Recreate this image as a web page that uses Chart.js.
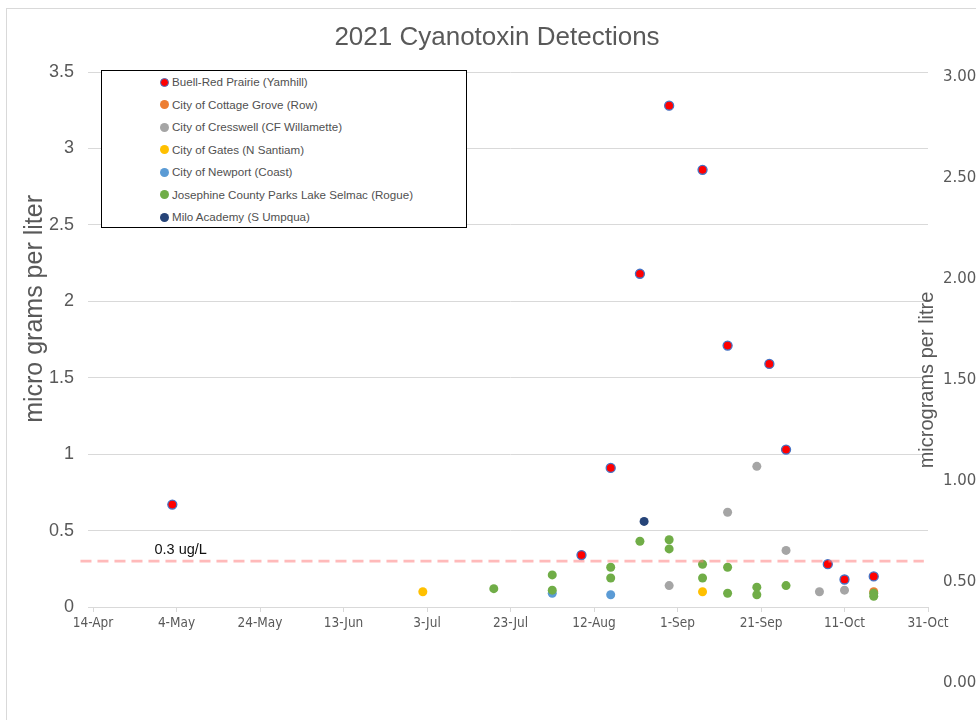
<!DOCTYPE html>
<html><head><meta charset="utf-8">
<script src="https://cdn.jsdelivr.net/npm/chart.js@4.4.1/dist/chart.umd.min.js"></script>
<style>
html,body{margin:0;padding:0;background:#fff;overflow:hidden;width:976px;height:720px;}
#frame{position:absolute;left:6px;top:8px;width:1100px;height:900px;border:1px solid #D9D9D9;}
#c{position:absolute;left:0;top:0;}
#legend{position:absolute;left:101px;top:70px;width:366px;height:158px;border:1.5px solid #000;box-sizing:border-box;background:#fff;font-family:"Liberation Sans";font-size:11.6px;color:#505050;}
.item{position:absolute;left:0;right:0;height:22px;}
.dot{position:absolute;left:58px;top:6.5px;width:9px;height:9px;border-radius:50%;box-sizing:border-box;}
.lbl{position:absolute;left:70px;top:0;line-height:22px;white-space:nowrap;}
</style></head>
<body><div id="frame"></div><canvas id="c" width="976" height="720"></canvas><div id="legend"></div>
<script>
// ---- data ----
const chartTitle = '2021 Cyanotoxin Detections';
const leftAxisTitle = 'micro grams per liter';
const rightAxisTitle = 'micrograms per litre';
const seriesNames = [
  'Buell-Red Prairie (Yamhill)',
  'City of Cottage Grove (Row)',
  'City of Cresswell (CF Willamette)',
  'City of Gates (N Santiam)',
  'City of Newport (Coast)',
  'Josephine County Parks Lake Selmac (Rogue)',
  'Milo Academy (S Umpqua)'
];
const buellDates = ['2021-05-03','2021-08-09','2021-08-16','2021-08-23','2021-08-30','2021-09-07','2021-09-13','2021-09-23','2021-09-27','2021-10-07','2021-10-11','2021-10-18'];
const buellValues = [0.67,0.34,0.91,2.18,3.28,2.86,1.71,1.59,1.03,0.28,0.18,0.20];
const cottageDates = ['2021-10-18'];
const cottageValues = [0.10];
const cresswellDates = ['2021-08-30','2021-09-13','2021-09-20','2021-09-27','2021-10-05','2021-10-11'];
const cresswellValues = [0.14,0.62,0.92,0.37,0.10,0.11];
const gatesDates = ['2021-07-02','2021-09-07'];
const gatesValues = [0.10,0.10];
const newportDates = ['2021-08-02','2021-08-16'];
const newportValues = [0.09,0.08];
const josephineDates = ['2021-07-19','2021-08-02','2021-08-02','2021-08-16','2021-08-16','2021-08-23','2021-08-30','2021-08-30','2021-09-07','2021-09-07','2021-09-13','2021-09-13','2021-09-20','2021-09-20','2021-09-27','2021-10-18','2021-10-18'];
const josephineValues = [0.12,0.21,0.11,0.26,0.19,0.43,0.44,0.38,0.28,0.19,0.26,0.09,0.13,0.08,0.14,0.09,0.07];
const miloDates = ['2021-08-24'];
const miloValues = [0.56];
const thresholdDates = ['2021-04-11','2021-10-30'];
const thresholdValue = 0.3;
const thresholdLabel = '0.3 ug/L';
const thresholdLabelDate = '2021-05-05';
const xTickDates = ['2021-04-14','2021-05-04','2021-05-24','2021-06-13','2021-07-03','2021-07-23','2021-08-12','2021-09-01','2021-09-21','2021-10-11','2021-10-31'];
const xTickLabels = ['14-Apr','4-May','24-May','13-Jun','3-Jul','23-Jul','12-Aug','1-Sep','21-Sep','11-Oct','31-Oct'];
const leftTicks = [0,0.5,1,1.5,2,2.5,3,3.5];
const leftTickLabels = ['0','0.5','1','1.5','2','2.5','3','3.5'];
const rightTicks = [0,0.5,1,1.5,2,2.5,3];
const rightTickLabels = ['0.00','0.50','1.00','1.50','2.00','2.50','3.00'];

// ---- helpers ----
const toDay = s => Date.UTC(+s.slice(0,4), +s.slice(5,7)-1, +s.slice(8,10)) / 864e5;
const pts = (d, v) => d.map((s, i) => ({x: toDay(s), y: v[i]}));

const seriesData = [
  pts(buellDates, buellValues),
  pts(cottageDates, cottageValues),
  pts(cresswellDates, cresswellValues),
  pts(gatesDates, gatesValues),
  pts(newportDates, newportValues),
  pts(josephineDates, josephineValues),
  pts(miloDates, miloValues)
];
const fills = ['#FF0000','#ED7D31','#A5A5A5','#FFC000','#5B9BD5','#70AD47','#264478'];
const borders = ['#4472C4','#ED7D31','#A5A5A5','#FFC000','#5B9BD5','#70AD47','#264478'];

const datasets = seriesNames.map((name, i) => ({
  label: name,
  data: seriesData[i],
  backgroundColor: fills[i],
  borderColor: borders[i],
  pointBackgroundColor: fills[i],
  pointBorderColor: borders[i],
  pointBorderWidth: i === 0 ? 1.3 : 0,
  pointRadius: 4.5,
  pointHoverRadius: 4.5,
  order: seriesNames.length - i,
  yAxisID: 'y'
}));
datasets.push({
  label: 'threshold',
  data: thresholdDates.map(s => ({x: toDay(s), y: thresholdValue})),
  showLine: true,
  borderColor: 'rgba(255,130,130,0.55)',
  borderWidth: 2.8,
  borderDash: [11, 6],
  pointRadius: 0,
  clip: false,
  order: 0,
  yAxisID: 'y'
});

const extraText = {
  id: 'extraText',
  afterDraw(chart) {
    const {ctx, scales: {x, y, y2}} = chart;
    ctx.save();
    ctx.font = '14.5px "Liberation Sans"';
    ctx.fillStyle = '#111';
    ctx.textAlign = 'center';
    ctx.textBaseline = 'middle';
    ctx.fillText(thresholdLabel, x.getPixelForValue(toDay(thresholdLabelDate)), y.getPixelForValue(thresholdValue) - 11);
    // left axis title (sits above the axis centre, as in the reference)
    ctx.save();
    ctx.translate(y.left + 17, y.getPixelForValue(1.95));
    ctx.rotate(-Math.PI / 2);
    ctx.font = '25px "Liberation Sans"';
    ctx.fillStyle = '#595959';
    ctx.fillText(leftAxisTitle, 0, 0);
    ctx.restore();
    // right axis title
    ctx.translate(y2.left - 1, y2.getPixelForValue(1.5));
    ctx.rotate(-Math.PI / 2);
    ctx.font = '20px "Liberation Sans"';
    ctx.fillStyle = '#595959';
    ctx.fillText(rightAxisTitle, 0, 0);
    ctx.restore();
  }
};

const chart = new Chart(document.getElementById('c'), {
  type: 'scatter',
  data: {datasets},
  plugins: [extraText],
  options: {
    responsive: false,
    animation: false,
    devicePixelRatio: 1,
    layout: {padding: {left: 18, right: 0, top: 0, bottom: 83}},
    plugins: {
      legend: {display: false},
      tooltip: {enabled: false},
      title: {
        display: true, text: chartTitle, color: '#595959',
        font: {family: 'Liberation Sans', size: 26, weight: 'normal'},
        padding: {top: 22, bottom: 18.8}
      }
    },
    scales: {
      x: {
        type: 'linear',
        min: toDay(xTickDates[0]), max: toDay(xTickDates[xTickDates.length - 1]),
        afterBuildTicks: s => { s.ticks = xTickDates.map(d => ({value: toDay(d)})); },
        afterFit: s => { s.height = 30; },
        grid: {drawOnChartArea: false, drawTicks: true, tickLength: 5, color: '#D9D9D9'},
        border: {display: true, color: '#D9D9D9'},
        ticks: {
          autoSkip: false, maxRotation: 0, padding: 3, color: '#595959',
          font: {family: '"DejaVu Sans Condensed", "Liberation Sans", sans-serif', size: 13.5},
          callback: (v, i) => xTickLabels[i]
        }
      },
      y: {
        position: 'left', min: 0, max: 3.5,
        afterBuildTicks: s => { s.ticks = leftTicks.map(v => ({value: v})); },
        afterFit: s => { s.width = 75; },
        grid: {color: '#D9D9D9', tickLength: 5},
        border: {display: false},
        ticks: {padding: 14, color: '#595959', font: {family: 'Liberation Sans', size: 18},
          callback: (v, i) => leftTickLabels[i]}
      },
      y2: {
        position: 'right', min: 0.376, max: 3.025,
        afterBuildTicks: s => { s.ticks = rightTicks.map(v => ({value: v})); },
        afterFit: s => { s.width = 48; },
        grid: {display: false, drawTicks: false},
        border: {display: false},
        ticks: {
          autoSkip: false, padding: 15, color: '#595959',
          font: {family: 'DejaVu Sans', size: 15},
          callback: (v, i) => rightTickLabels[i]
        }
      }
    }
  }
});

// HTML legend built from the chart's datasets
const lg = document.getElementById('legend');
chart.data.datasets.slice(0, seriesNames.length).forEach((ds, i) => {
  const it = document.createElement('div');
  it.className = 'item';
  it.style.top = (i * 22.5) + 'px';
  const dot = document.createElement('span');
  dot.className = 'dot';
  dot.style.background = ds.pointBackgroundColor;
  if (ds.pointBorderWidth) dot.style.border = '1.3px solid ' + ds.pointBorderColor;
  const t = document.createElement('span');
  t.className = 'lbl';
  t.textContent = ds.label;
  it.appendChild(dot); it.appendChild(t);
  lg.appendChild(it);
});
</script></body></html>
